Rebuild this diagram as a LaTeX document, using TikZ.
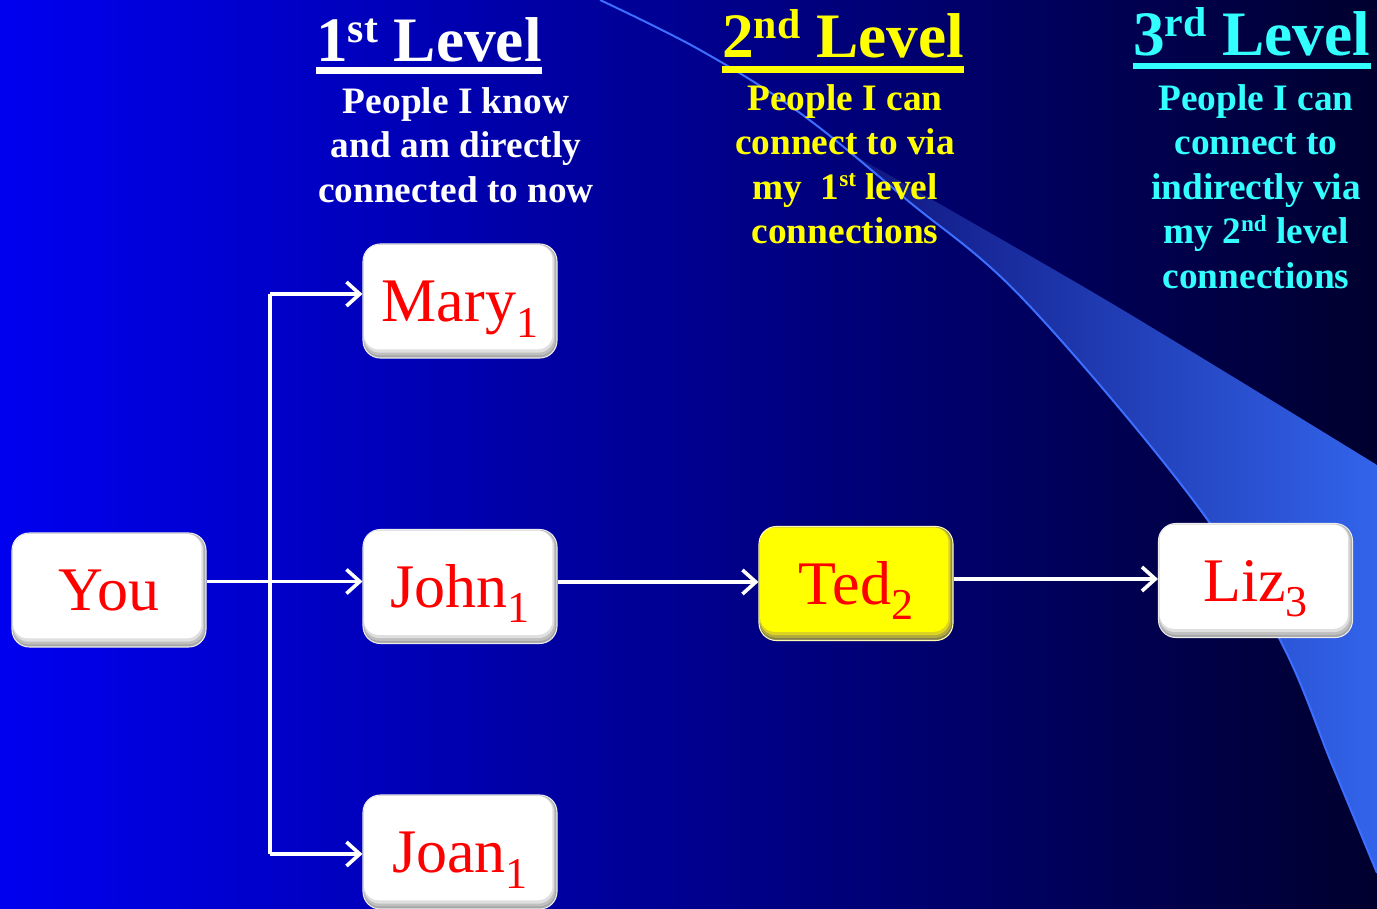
\documentclass[tikz,border=0pt]{standalone}
\usepackage{fontspec}
\setmainfont{Liberation Serif}
\usepackage{graphicx}
\usetikzlibrary{arrows.meta,calc}
\definecolor{bgL}{RGB}{0,0,240}
\definecolor{bgR}{RGB}{0,0,46}
\definecolor{swL}{RGB}{15,20,125}
\definecolor{swR}{RGB}{50,100,235}
\definecolor{swEdge}{RGB}{60,110,255}
\definecolor{lvlcyan}{RGB}{51,255,255}
\definecolor{lvlyellow}{RGB}{255,255,0}
\definecolor{namered}{RGB}{255,0,0}
\newcommand\supx[1]{\raisebox{0.33em}{\scalebox{0.62}{#1}}}
\newcommand\suph[1]{\raisebox{0.3em}{\scalebox{0.66}{#1}}}
\newcommand\subx[1]{\raisebox{-11.5pt}{\fontsize{33}{33}\selectfont #1}}
\tikzset{
  bevel/.style n args={5}{fill=#1, draw=#5,
     path picture={
       \fill[#2, rounded corners=12pt] ([shift={(0.5pt,-0.5pt)}]path picture bounding box.north west) rectangle ([shift={(-1.2pt,2pt)}]path picture bounding box.south east);
       \fill[#3, rounded corners=12pt] ([shift={(0.6pt,-0.6pt)}]path picture bounding box.north west) rectangle ([shift={(-2.2pt,4pt)}]path picture bounding box.south east);
       \fill[#4, rounded corners=11pt] ([shift={(0.8pt,-0.8pt)}]path picture bounding box.north west) rectangle ([shift={(-3.4pt,6.5pt)}]path picture bounding box.south east);
     }},
  personbox/.style={rounded corners=13pt, minimum width=145.5pt, minimum height=85.5pt, inner sep=0pt,
     text height=31pt, text depth=0pt, font=\fontsize{46.5}{50}\selectfont, text=namered, line width=0.8pt,
     bevel={gray!70}{gray!50}{gray!25}{white}{gray!15}},
  tedbox/.style={personbox, bevel={yellow!45!black}{yellow!65!black}{yellow!85!black}{lvlyellow}{yellow!30!white}},
  head/.style={font=\bfseries\fontsize{47.5}{52}\selectfont, inner sep=0pt, anchor=base west},
  body/.style={font=\bfseries\fontsize{28}{33.4}\selectfont, inner sep=0pt, align=center, anchor=north},
  ul/.style={line width=4.8pt},
  conn/.style={draw=white, line width=2.7pt},
  arr/.style={conn, -{Straight Barb[length=10pt,width=18pt]}},
}
\begin{document}
\begin{tikzpicture}[x=0.75pt,y=-0.75pt]
\useasboundingbox (0,0) rectangle (1377,909);
% background
\shade[left color=bgL, right color=bgR] (0,0) rectangle (1377,909);
% swoosh band
\shade[left color=swL, right color=swR]
  plot[smooth,tension=0.5] coordinates {(845,150) (1106,300) (1377,465)}
  -- (1377,873)
  -- plot[smooth,tension=0.6] coordinates {(1377,873) (1333,767) (1280,640) (1193,500) (1024,300) (907,200) (845,150)} -- cycle;
\draw[swEdge, line width=1.5pt] plot[smooth,tension=0.6] coordinates {(600,0) (700,50) (800,113) (907,200) (1024,300) (1193,500) (1280,640) (1333,767) (1377,873)};

% headings
\node[head, text=white] (h1) at (316,62) {1\suph{st} Level};
\draw[ul, white] ($(h1.base west)+(0,8.5)$) -- ($(h1.base east)+(0,8.5)$);
\node[head, text=lvlyellow] (h2) at (722,58) {2\suph{nd} Level};
\draw[ul, lvlyellow] ($(h2.base west)+(0,11.5)$) -- ($(h2.base east)+(0,11.5)$);
\node[head, text=lvlcyan] (h3) at (1133,56) {3\suph{rd} Level};
\draw[ul, lvlcyan] ($(h3.base west)+(0,10)$) -- ($(h3.base east)+(0,10)$);

\node[body, text=white] (d1) at (456,87) {People I know\\and am directly\\connected to now};
\node[body, text=lvlyellow] (d2) at (845,84) {People I can\\connect to via\\my~~1\supx{st} level\\connections};
\node[body, text=lvlcyan] (d3) at (1256,84) {People I can\\connect to\\indirectly via\\my 2\supx{nd} level\\connections};

% people
\node[personbox] (you) at (109,590) {You};
\node[personbox] (mary) at (460,301) {Mary\subx{1}};
\node[personbox] (john) at (460,586.5) {John\subx{1}};
\node[personbox] (joan) at (460,852) {Joan\subx{1}};
\node[tedbox] (ted) at (856,583.5) {Ted\subx{2}};
\node[personbox] (liz) at (1255.5,580.5) {Liz\subx{3}};

% connectors
\coordinate (tr) at (270,0);
\coordinate (maryin) at ($(mary.west)+(0,-7)$);
\coordinate (joanin) at ($(joan.west)+(0,2)$);
\coordinate (johnin) at ($(john.west)+(0,-5)$);
\coordinate (tedin) at ($(ted.west)+(0,-1.5)$);
\coordinate (lizin) at ($(liz.west)+(0,-1.5)$);
\draw[conn] (tr |- maryin) -- (tr |- joanin);
\draw[arr] (tr |- maryin) -- (maryin);
\draw[arr] (tr |- joanin) -- (joanin);
\draw[arr] (you.east |- johnin) -- (johnin);
\draw[arr] (john.east |- tedin) -- (tedin);
\draw[arr] (ted.east |- lizin) -- (lizin);
\end{tikzpicture}
\end{document}
